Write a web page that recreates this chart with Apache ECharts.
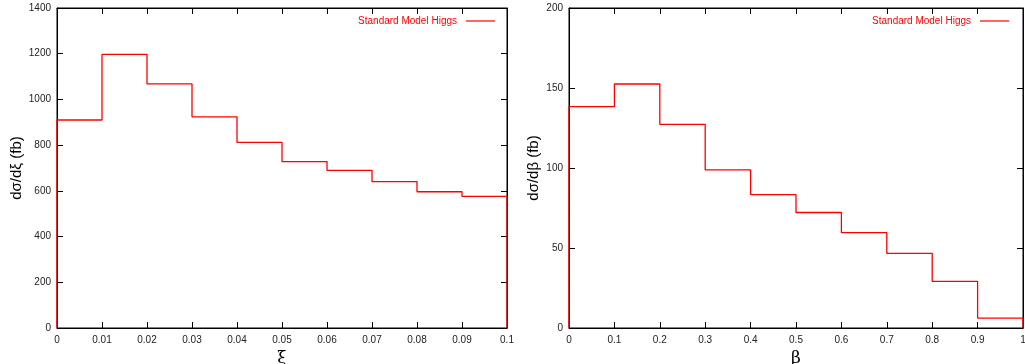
<!DOCTYPE html>
<html>
<head>
<meta charset="utf-8">
<script src="https://cdn.jsdelivr.net/npm/echarts@6/dist/echarts.min.js"></script>
<style>
  html, body { margin: 0; padding: 0; background: #fff; }
  #chart { width: 1025px; height: 364px; }
</style>
</head>
<body>
<div id="chart"></div>
<script>
// bin edges and per-bin cross sections
const xiEdges = [0, 0.01, 0.02, 0.03, 0.04, 0.05, 0.06, 0.07, 0.08, 0.09, 0.1];
const xiValues = [910, 1197, 1068, 924, 812, 728, 690, 640, 596, 576];

const betaEdges = [0, 0.1, 0.2, 0.3, 0.4, 0.5, 0.6, 0.7, 0.8, 0.9, 1];
const betaValues = [138.3, 152.5, 127.3, 98.8, 83.3, 72.2, 59.6, 46.7, 29.2, 6.2];

const seriesName = "Standard Model Higgs";

// histogram outline: start at zero, one point per bin, close back to zero
function histPoints(edges, values) {
  const pts = [[edges[0], 0]];
  values.forEach((v, i) => pts.push([edges[i], v]));
  const last = edges[edges.length - 1];
  pts.push([last, values[values.length - 1]]);
  pts.push([last, 0]);
  return pts;
}

const labelFont = { color: "#222", fontSize: 10, fontFamily: "Liberation Sans, Arial, sans-serif" };
const tick = { show: true, inside: true, length: 6, lineStyle: { color: "#000" } };

function xAxes(gridIndex, min, max, interval, digits, name) {
  return [
    {
      gridIndex, type: "value", min, max, interval, position: "bottom",
      axisLine: { show: true, onZero: false, lineStyle: { color: "#000" } },
      axisTick: tick,
      splitLine: { show: false },
      axisLabel: Object.assign({ margin: 7, formatter: (v) => String(+v.toFixed(digits)) }, labelFont),
      name, nameLocation: "middle", nameGap: 20,
      nameTextStyle: { fontSize: 17, color: "#000", fontFamily: "DejaVu Serif, serif" }
    },
    {
      gridIndex, type: "value", min, max, interval, position: "top",
      axisLine: { show: true, onZero: false, lineStyle: { color: "#000" } },
      axisTick: tick, axisLabel: { show: false }, splitLine: { show: false }
    }
  ];
}

function yAxes(gridIndex, max, interval, name) {
  return [
    {
      gridIndex, type: "value", min: 0, max, interval, position: "left",
      axisLine: { show: true, onZero: false, lineStyle: { color: "#000" } },
      axisTick: tick,
      splitLine: { show: false },
      axisLabel: Object.assign({ margin: 6, formatter: (v) => String(v) }, labelFont),
      name, nameLocation: "middle", nameRotate: 90, nameGap: 28,
      nameTextStyle: { fontSize: 15, color: "#000", fontFamily: "Liberation Sans, Arial, sans-serif" }
    },
    {
      gridIndex, type: "value", min: 0, max, interval, position: "right",
      axisLine: { show: true, onZero: false, lineStyle: { color: "#000" } },
      axisTick: tick, axisLabel: { show: false }, splitLine: { show: false }
    }
  ];
}

const chart = echarts.init(document.getElementById("chart"));

const legendBase = {
  data: [seriesName],
  top: 11,
  align: "right",
  icon: "rect",
  itemWidth: 29,
  itemHeight: 1.2,
  itemGap: 0,
  textStyle: { color: "#ff0000", fontSize: 10, fontFamily: "Liberation Sans, Arial, sans-serif", padding: [0, 4, 0, 0] }
};

const gridBase = { top: 8, height: 320, outerBoundsMode: "none", containLabel: false, show: true, borderColor: "#000", borderWidth: 1 };

chart.setOption({
  animation: false,
  backgroundColor: "#fff",
  grid: [
    Object.assign({ left: 57, width: 450 }, gridBase),
    Object.assign({ left: 569, width: 454 }, gridBase)
  ],
  legend: [
    Object.assign({ right: 525 }, legendBase),
    Object.assign({ right: 11 }, legendBase)
  ],
  xAxis: [].concat(
    xAxes(0, 0, 0.1, 0.01, 2, "ξ"),
    xAxes(1, 0, 1, 0.1, 1, "β")
  ),
  yAxis: [].concat(
    yAxes(0, 1400, 200, "dσ/dξ (fb)"),
    yAxes(1, 200, 50, "dσ/dβ (fb)")
  ),
  series: [
    {
      name: seriesName, type: "line", step: "end",
      xAxisIndex: 0, yAxisIndex: 0,
      data: histPoints(xiEdges, xiValues),
      showSymbol: false, symbol: "none",
      lineStyle: { color: "#ff0000", width: 1.3 },
      itemStyle: { color: "#ff0000" }
    },
    {
      name: seriesName, type: "line", step: "end",
      xAxisIndex: 2, yAxisIndex: 2,
      data: histPoints(betaEdges, betaValues),
      showSymbol: false, symbol: "none",
      lineStyle: { color: "#ff0000", width: 1.3 },
      itemStyle: { color: "#ff0000" }
    }
  ]
});
</script>
</body>
</html>
